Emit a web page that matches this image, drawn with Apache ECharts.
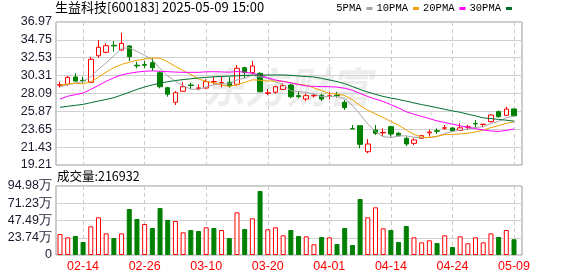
<!DOCTYPE html>
<html><head><meta charset="utf-8">
<script src="https://cdn.jsdelivr.net/npm/echarts/dist/echarts.min.js"></script>
<style>html,body{margin:0;padding:0;background:#fff;}#c{width:578px;height:276px;}</style>
</head><body><div id="c"></div>
<script>
const dates = ['02-11','02-12','02-13','02-14','02-17','02-18','02-19','02-20','02-21','02-24','02-25','02-26','02-27','02-28','03-03','03-04','03-05','03-06','03-07','03-10','03-11','03-12','03-13','03-14','03-17','03-18','03-19','03-20','03-21','03-24','03-25','03-26','03-27','03-28','03-31','04-01','04-02','04-03','04-07','04-08','04-09','04-10','04-11','04-14','04-15','04-16','04-17','04-18','04-21','04-22','04-23','04-24','04-25','04-28','04-29','04-30','05-06','05-07','05-08','05-09'];
const open = [29.12,29.23,30.14,29.72,29.48,32.78,33.21,34.08,33.49,33.99,31.60,31.68,31.92,30.67,28.81,27.00,28.36,29.15,28.74,28.77,29.53,29.40,29.48,29.23,31.29,30.67,30.60,28.12,28.24,28.60,29.14,27.82,27.41,27.80,27.86,27.74,27.90,27.00,23.72,24.09,20.86,23.56,23.20,23.97,23.15,22.53,21.90,22.53,23.20,23.46,23.78,23.81,23.50,23.90,24.37,24.24,24.59,25.83,25.38,26.17];
const close = [29.18,30.10,29.64,29.66,32.34,33.83,34.03,34.00,34.32,32.66,31.52,31.60,31.29,28.93,28.00,28.19,28.93,29.08,28.78,29.56,29.58,29.45,29.06,31.22,30.72,31.50,28.31,28.18,28.93,29.06,27.69,27.70,27.82,27.85,27.41,27.80,27.84,26.33,23.70,21.78,21.82,23.15,23.26,23.06,22.85,21.82,22.32,22.85,23.30,23.40,23.83,23.45,23.83,23.95,24.31,24.28,25.42,25.21,26.15,25.32];
const low = [28.85,29.06,29.56,29.36,29.39,32.54,33.08,33.28,33.37,32.13,31.22,31.22,30.88,28.73,27.69,26.66,28.30,28.65,28.49,28.69,29.15,28.86,28.81,29.06,29.98,30.47,28.24,27.90,28.07,28.52,27.49,27.49,27.16,27.62,27.16,27.37,27.57,26.04,23.70,21.28,20.66,22.94,22.73,22.73,22.73,21.57,21.69,22.45,22.73,23.06,23.56,23.35,23.43,23.56,23.84,23.89,24.50,25.08,25.30,25.25];
const high = [29.56,30.26,30.60,30.18,32.66,34.73,34.32,34.61,35.64,34.11,32.04,32.13,32.46,30.88,28.93,28.40,29.48,29.43,29.23,29.85,30.18,30.14,30.14,31.63,31.42,32.13,30.72,28.65,29.06,29.36,29.27,28.40,28.07,28.07,28.07,28.31,28.31,27.28,24.18,24.09,22.44,24.18,23.77,24.09,23.30,22.73,22.53,22.95,23.60,23.77,24.18,23.90,24.39,24.18,24.80,24.28,25.50,26.00,26.45,26.20];
const ma5 = [28.9,29.2,29.4,29.6,30.18,31.11,31.90,32.77,33.70,33.77,33.31,32.82,32.28,31.20,30.27,29.60,29.07,28.63,28.60,28.91,29.19,29.29,29.29,29.77,30.01,30.39,30.16,29.99,29.53,29.20,28.43,28.31,28.24,28.02,27.69,27.72,27.74,27.45,26.62,25.49,24.29,23.36,22.74,22.61,22.83,22.83,22.66,22.58,22.63,22.74,23.14,23.37,23.56,23.69,23.87,23.96,24.36,24.63,25.07,25.28];
const ma10 = [29.15,29.25,29.35,29.3,29.55,30.1,30.75,31.3,31.7,31.98,32.21,32.36,32.53,32.45,32.02,31.45,30.94,30.45,29.90,29.59,29.39,29.18,28.96,29.19,29.46,29.79,29.73,29.64,29.65,29.60,29.41,29.24,29.11,28.78,28.45,28.08,28.03,27.84,27.32,26.59,26.01,25.55,25.09,24.62,24.16,23.56,23.01,22.66,22.62,22.78,22.98,23.01,23.07,23.16,23.31,23.55,23.86,24.10,24.38,24.58];
const ma20 = [27.40,27.75,27.95,28.15,28.6,29.1,29.6,30.05,30.4,30.6,30.75,30.85,30.9,30.85,30.8,30.75,30.72,30.72,30.72,30.78,30.80,30.77,30.74,30.82,30.74,30.62,30.34,30.04,29.77,29.59,29.40,29.21,29.03,28.98,28.95,28.93,28.88,28.74,28.49,28.10,27.71,27.39,27.10,26.70,26.30,25.82,25.52,25.25,24.97,24.69,24.49,24.28,24.08,23.89,23.73,23.56,23.44,23.38,23.50,23.68];
const ma30 = [26.37,26.5,26.62,26.74,26.95,27.16,27.35,27.57,27.9,28.24,28.6,28.9,29.15,29.38,29.56,29.7,29.82,29.92,30.02,30.1,30.16,30.21,30.25,30.29,30.33,30.37,30.38,30.38,30.39,30.39,30.34,30.26,30.20,30.14,29.97,29.77,29.57,29.31,28.96,28.59,28.27,27.99,27.72,27.53,27.35,27.14,26.92,26.71,26.53,26.33,26.13,25.93,25.76,25.52,25.30,25.06,24.97,24.87,24.77,24.65];
const volume = [289000,243000,262000,179000,395000,519000,298000,234000,298000,633000,496000,427000,372000,647000,482000,468000,312000,344000,330000,381000,372000,344000,234000,587000,358000,505000,881000,354000,381000,271000,344000,262000,257000,147000,248000,243000,151000,372000,138000,771000,519000,656000,367000,344000,179000,399000,243000,174000,202000,165000,271000,110000,257000,161000,243000,174000,298000,248000,344000,216932];
const volUp = [1,1,0,0,1,1,1,0,1,0, 0,1,0,0,0,1,1,0,0,1, 0,1,0,1,0,1,0,1,1,1, 0,0,1,1,0,1,0,0,0,0, 1,1,1,0,0,0,1,1,1,0, 1,0,1,1,1,1,1,0,1,0];
const priceTicks = {min: 19.21, max: 36.97, interval: 2.22};
const volTicks = {min: 0, max: 949800, interval: 237450};
const titleText = '生益科技[600183] 2025-05-09 15:00';
const volTitle = '成交量:216932';
const maNames = ['5PMA','10PMA','20PMA','30PMA'];

const RED = '#ff0000', GREEN = '#008000';
const numFont = 'Liberation Sans';
const showIdx = (i) => (i - 3) % 8 === 0;

const chart = echarts.init(document.getElementById('c'), null, {renderer: 'canvas'});
const kData = dates.map((d, i) => [open[i], close[i], low[i], high[i]]);
const vData = volume.map((v, i) => ({
  value: v,
  itemStyle: volUp[i] ? {color: '#ffffff', borderColor: RED, borderWidth: 1} : {color: GREEN, borderColor: GREEN, borderWidth: 1}
}));
const fmtVol = (v) => v === 0 ? '0' : (Math.floor(v / 100) / 100).toFixed(2) + '万';

const option = {
  animation: false,
  backgroundColor: '#ffffff',
  title: [
    {text: titleText, left: 55, top: 1, padding: 0, textStyle: {fontSize: 13, fontWeight: 'normal', color: '#000', fontFamily: 'Noto Sans CJK SC'}},
    {text: volTitle, left: 57, top: 170, padding: 0, textStyle: {fontSize: 12.5, fontWeight: 'normal', color: '#000', fontFamily: 'Noto Sans CJK SC'}}
  ],
  legend: {
    data: maNames, right: 66, top: 3, align: 'right', icon: 'rect',
    itemWidth: 6, itemHeight: 3, itemGap: 4, padding: 0,
    textStyle: {fontSize: 10.5, color: '#000', fontFamily: 'Liberation Mono'}
  },
  graphic: [{
    type: 'text', left: 203, top: 66, z: -10, silent: true,
    style: {text: '东方财富', fontSize: 42, fontWeight: 'bold', fontStyle: 'italic', fill: 'rgba(0,0,0,0.07)', fontFamily: 'Noto Sans CJK SC'}
  }],
  grid: [
    {left: 56, top: 22, width: 466, height: 143, show: true, borderColor: '#999', borderWidth: 1, backgroundColor: 'transparent'},
    {left: 60, top: 22, width: 454, height: 143},
    {left: 56, top: 186, width: 466, height: 69, show: true, borderColor: '#999', borderWidth: 1, backgroundColor: 'transparent'},
    {left: 60, top: 186, width: 454, height: 69}
  ],
  xAxis: [
    {gridIndex: 0, type: 'value', min: 0, max: 1, show: false},
    {gridIndex: 1, type: 'category', data: dates, boundaryGap: false,
     axisLine: {show: false}, axisTick: {show: false}, axisLabel: {show: false},
     splitLine: {show: true, interval: showIdx, lineStyle: {color: '#cccccc', type: [4, 3], width: 1}}},
    {gridIndex: 2, type: 'value', min: 0, max: 1, show: false},
    {gridIndex: 3, type: 'category', data: dates, boundaryGap: false,
     axisLine: {show: false}, axisTick: {show: false},
     axisLabel: {show: true, interval: showIdx, color: RED, fontSize: 12.5, fontFamily: numFont, margin: 5},
     splitLine: {show: true, interval: showIdx, lineStyle: {color: '#cccccc', type: [4, 3], width: 1}}}
  ],
  yAxis: [
    {gridIndex: 0, type: 'value', min: priceTicks.min, max: priceTicks.max, interval: priceTicks.interval,
     axisLine: {show: false}, axisTick: {show: false},
     axisLabel: {color: '#1a1a2e', fontSize: 12.5, fontFamily: numFont, margin: 4, formatter: (v) => v.toFixed(2)},
     splitLine: {show: true, lineStyle: {color: '#d0d0d0', width: 1}}},
    {gridIndex: 1, type: 'value', min: priceTicks.min, max: priceTicks.max, show: false, splitLine: {show: false}},
    {gridIndex: 2, type: 'value', min: volTicks.min, max: volTicks.max, interval: volTicks.interval,
     axisLine: {show: false}, axisTick: {show: false},
     axisLabel: {color: '#1a1a2e', fontSize: 12.5, fontFamily: numFont, margin: 4, formatter: fmtVol},
     splitLine: {show: true, lineStyle: {color: '#d0d0d0', width: 1}}},
    {gridIndex: 3, type: 'value', min: volTicks.min, max: volTicks.max, show: false, splitLine: {show: false}}
  ],
  series: [
    {type: 'candlestick', xAxisIndex: 1, yAxisIndex: 1, data: kData, barWidth: 5, clip: false,
     itemStyle: {color: '#ffffff', borderColor: RED, color0: GREEN, borderColor0: GREEN, borderWidth: 1}},
    {name: maNames[0], type: 'line', xAxisIndex: 1, yAxisIndex: 1, data: ma5, symbol: 'none', clip: false,
     color: '#a6a6a6', lineStyle: {width: 1, color: '#a6a6a6'}},
    {name: maNames[1], type: 'line', xAxisIndex: 1, yAxisIndex: 1, data: ma10, symbol: 'none', clip: false,
     color: '#f0a000', lineStyle: {width: 1, color: '#f0a000'}},
    {name: maNames[2], type: 'line', xAxisIndex: 1, yAxisIndex: 1, data: ma20, symbol: 'none', clip: false,
     color: '#ff00ff', lineStyle: {width: 1, color: '#ff00ff'}},
    {name: maNames[3], type: 'line', xAxisIndex: 1, yAxisIndex: 1, data: ma30, symbol: 'none', clip: false,
     color: '#006f2e', lineStyle: {width: 1, color: '#006f2e'}},
    {type: 'bar', xAxisIndex: 3, yAxisIndex: 3, data: vData, barWidth: 5, clip: false}
  ]
};
chart.setOption(option);
</script></body></html>
